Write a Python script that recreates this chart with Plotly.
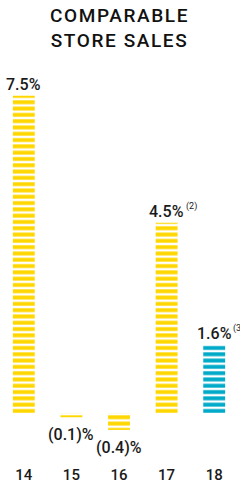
import plotly.graph_objects as go

years = ["14", "15", "16", "17", "18"]
values = [7.5, -0.1, -0.4, 4.5, 1.6]
labels = ["7.5%", "(0.1)%", "(0.4)%", "4.5%", "1.6%"]
notes = ["", "", "", "(2)", "(3)"]
colors = ["#FFD700", "#FFD700", "#FFD700", "#FFD700", "#00AAC8"]

FONT = "Roboto"
fig = go.Figure()
fig.add_trace(go.Bar(
    x=years, y=values, width=0.46,
    marker=dict(
        color=colors,
        line=dict(width=0),
        pattern=dict(shape="-", fillmode="replace", bgcolor="white",
                     fgcolor=colors, size=6.3, solidity=0.62),
    ),
    hoverinfo="skip",
))

annotations = []
for i, (v, lab, note) in enumerate(zip(values, labels, notes)):
    pos = v >= 0
    annotations.append(dict(
        x=i, y=v, xref="x", yref="y", text=lab, showarrow=False,
        xanchor="center", yanchor="bottom" if pos else "top",
        yshift=0 if pos else -6,
        font=dict(family=FONT, size=16, color="#1a1a1a", weight=500),
    ))
    if note:
        annotations.append(dict(
            x=i, y=v, xref="x", yref="y", text=note, showarrow=False,
            xanchor="left", yanchor="bottom", xshift=17, yshift=9,
            font=dict(family=FONT, size=9, color="#1a1a1a"),
        ))

annotations.append(dict(
    x=0.5, y=1, xref="paper", yref="paper", yshift=53,
    text='<span style="letter-spacing:1.6px">COMPARABLE<br>STORE SALES</span>',
    showarrow=False, xanchor="center", yanchor="top",
    font=dict(family=FONT, size=19, color="#111111", weight=500),
))

fig.update_layout(
    width=240, height=487, autosize=False,
    margin=dict(l=0, r=2, t=55, b=32),
    paper_bgcolor="white", plot_bgcolor="white",
    showlegend=False,
    annotations=annotations,
    xaxis=dict(type="category", range=[-0.5, 4.5], showgrid=False, zeroline=False,
               showline=False, ticks="", ticklabelstandoff=9,
               tickfont=dict(family=FONT, size=15, color="#1a1a1a", weight=500)),
    yaxis=dict(range=[-0.993, 8.463], visible=False, showgrid=False, zeroline=False),
)

fig.write_html("out.html", config={"displayModeBar": False},
               post_script="document.body.style.margin='0';")
